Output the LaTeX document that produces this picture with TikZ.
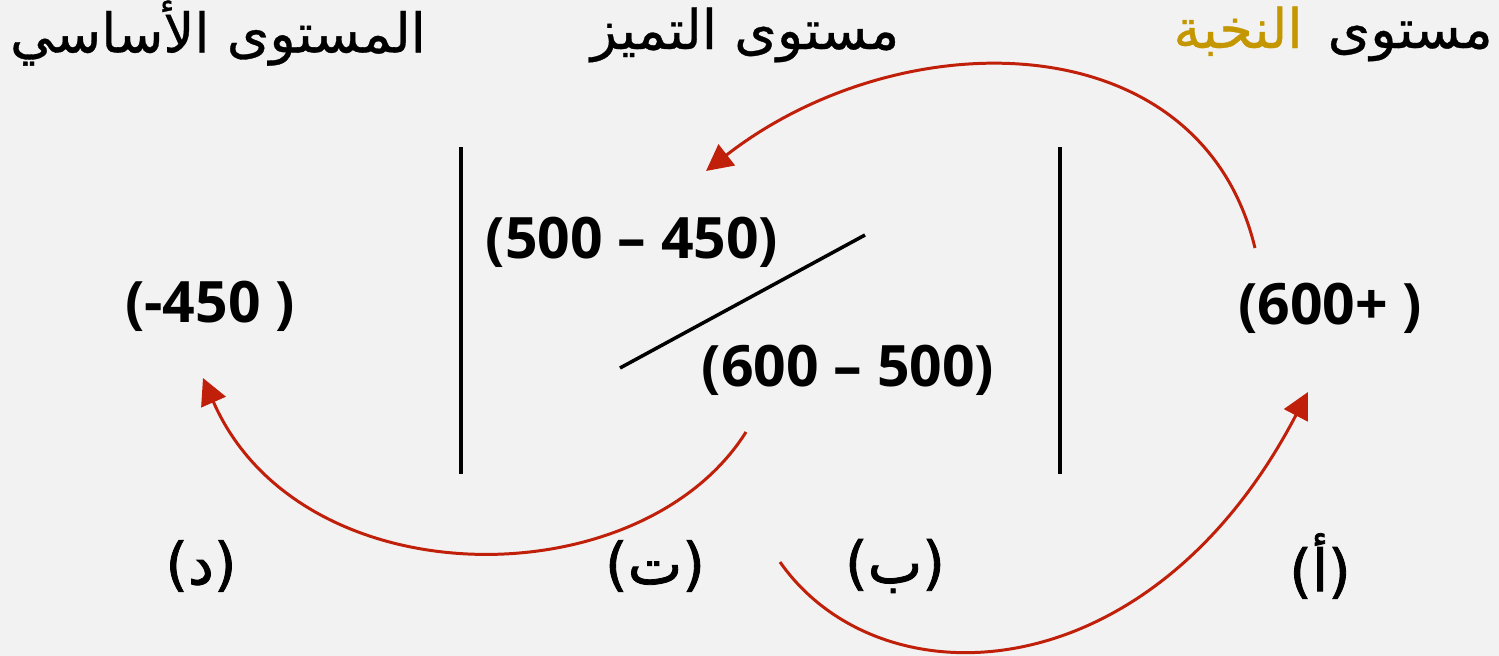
\documentclass[tikz,border=0pt]{standalone}
\usepackage{fontspec}
\setmainfont{Open Sans}
\newfontfamily\arabicfont[Script=Arabic,FakeBold=0.6]{DejaVu Sans}
\newfontfamily\arabiclab[Script=Arabic,FakeBold=1.4]{DejaVu Sans}
\TeXXeTstate=1
\usetikzlibrary{arrows.meta}
\definecolor{bg}{RGB}{242,242,242}
\definecolor{gold}{RGB}{196,150,0}
\definecolor{arrowred}{RGB}{192,32,10}
\begin{document}
\begin{tikzpicture}[x=0.02cm,y=-0.02cm,
  title/.style={font=\arabicfont\fontsize{31}{36}\selectfont, inner sep=0pt},
  num/.style={font=\bfseries\fontsize{32.5}{38}\selectfont, inner sep=0pt},
  lab/.style={font=\arabiclab\fontsize{33}{38}\selectfont, inner sep=0pt},
  divider/.style={line width=2.3pt, black},
  redarrow/.style={arrowred, line width=1.7pt, -{Triangle[length=15pt,width=15pt]}}]
\fill[bg] (0,0) rectangle (1499,656);
\useasboundingbox (0,0) rectangle (1499,656);
% titles
\node[title] (tD) at (218,33) {\beginR المستوى الأساسي\endR};
\node[title] (tT) at (745,35) {\beginR مستوى التميز\endR};
\node[title, anchor=base east] (tA1) at (1493,48) {مستوى};
\node[title, anchor=base east, text=gold] (tA2) at ([xshift=-14]tA1.base west) {النخبة};
% dividers
\coordinate (l1t) at (461,147); \coordinate (l1b) at (461,474);
\coordinate (l2t) at (1060,147); \coordinate (l2b) at (1060,474);
\draw[divider] (l1t) -- (l1b);
\draw[divider] (l2t) -- (l2b);
\coordinate (dg1) at (620,368); \coordinate (dg2) at (865,235);
\draw[divider, line width=2pt] (dg1) -- (dg2);
% numbers
\node[num] (n1) at (632,242) {(500 – 450)};
\node[num] (n2) at (848,370) {(600 – 500)};
\node[num] (n3) at (210,306) {(-450 )};
\node[num] (n4) at (1330,308) {(600+ )};
% labels
\node[lab] (ld) at (201,566) {(د)};
\node[lab] (lt) at (655,566) {(ت)};
\node[lab] (lb) at (895,566) {(ب)};
\node[lab] (la) at (1320,566) {(أ)};
% arrows
\coordinate (a1s) at (1255,248); \coordinate (a1e) at (706,171);
\coordinate (a2s) at (746,432); \coordinate (a2e) at (203,378);
\coordinate (a3s) at (780,562); \coordinate (a3e) at (1308,392);
\draw[redarrow] (a1s) .. controls (1200,20) and (900,20) .. (a1e);
\draw[redarrow] (a2s) .. controls (640,600) and (300,600) .. (a2e);
\draw[redarrow] (a3s) .. controls (880,705) and (1150,695) .. (a3e);
\end{tikzpicture}
\end{document}
